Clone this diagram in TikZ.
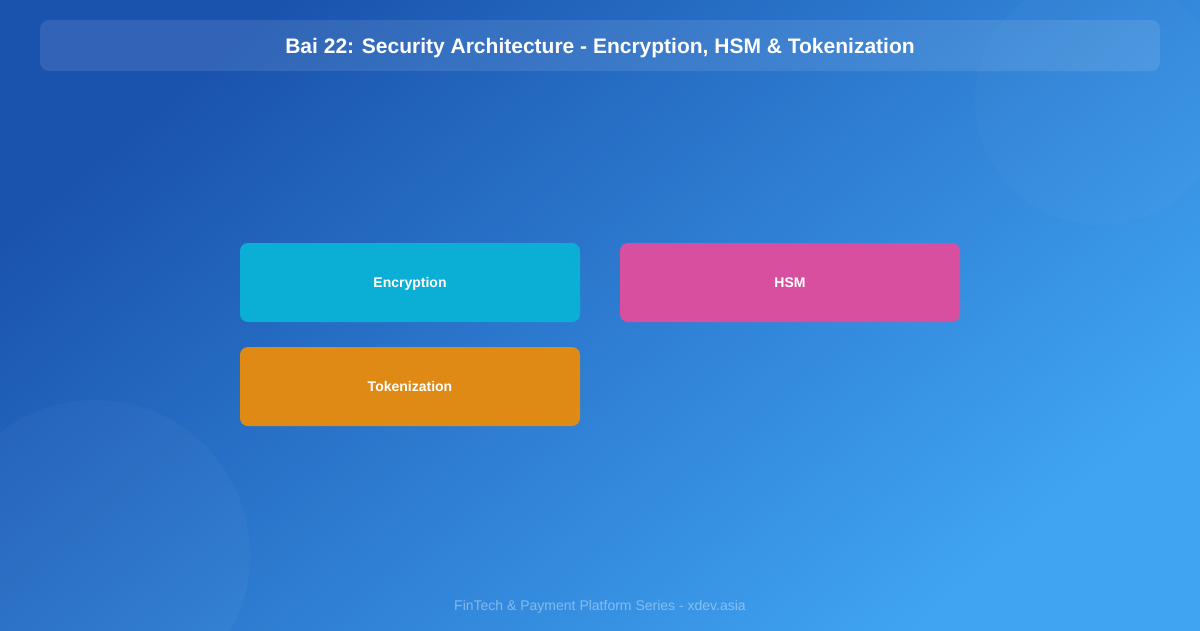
\documentclass[tikz,border=0pt]{standalone}
\usepackage{fontspec}
\setmainfont{Liberation Sans}
\usetikzlibrary{positioning}
\definecolor{bgA}{HTML}{1A53AE}
\definecolor{bgB}{HTML}{40A4F3}
\definecolor{encC}{HTML}{0BAFD5}
\definecolor{hsmC}{HTML}{D94F9F}
\definecolor{tokC}{HTML}{DE8A15}
\tikzset{
  card/.style={rounded corners=8pt, minimum width=340pt, minimum height=79pt, inner sep=0pt,
    text=white, font=\fontsize{14}{16}\selectfont\bfseries},
}
\newcommand{\midtext}[2]{\raisebox{-#1}[0pt][0pt]{#2}}
\begin{document}
\begin{tikzpicture}[x=1pt,y=-1pt]
\useasboundingbox (0,0) rectangle (1200,630);
\begin{scope}[y=1pt]
\shade[top color=bgA, bottom color=bgB, shading angle=40] (0,-630) rectangle (1200,0);
\end{scope}
\begin{scope}
\clip (0,0) rectangle (1200,630);
\fill[white, opacity=0.025] (1100,100) circle (125);
\fill[white, opacity=0.03] (95,555) circle (155);
\end{scope}
\node[fill=white, fill opacity=0.10, text opacity=1, rounded corners=9pt, minimum width=1120pt, minimum height=51pt, inner sep=0pt,
  text=white, font=\fontsize{21}{24}\selectfont\bfseries] (title) at (600,45.5) {\midtext{7.5pt}{Bai 22: Security Architecture - Encryption, HSM \& Tokenization}};
\node[card, fill=encC] (enc) at (410,282.5) {\midtext{5pt}{Encryption}};
\node[card, fill=hsmC] (hsm) at (790,282.5) {\midtext{5pt}{HSM}};
\node[card, fill=tokC] (tok) at (410,386.5) {\midtext{5pt}{Tokenization}};
\node[text=white, text opacity=0.4, font=\fontsize{14}{16}\selectfont] (foot) at (600,606.5) {FinTech \& Payment Platform Series - xdev.asia};
\end{tikzpicture}
\end{document}
